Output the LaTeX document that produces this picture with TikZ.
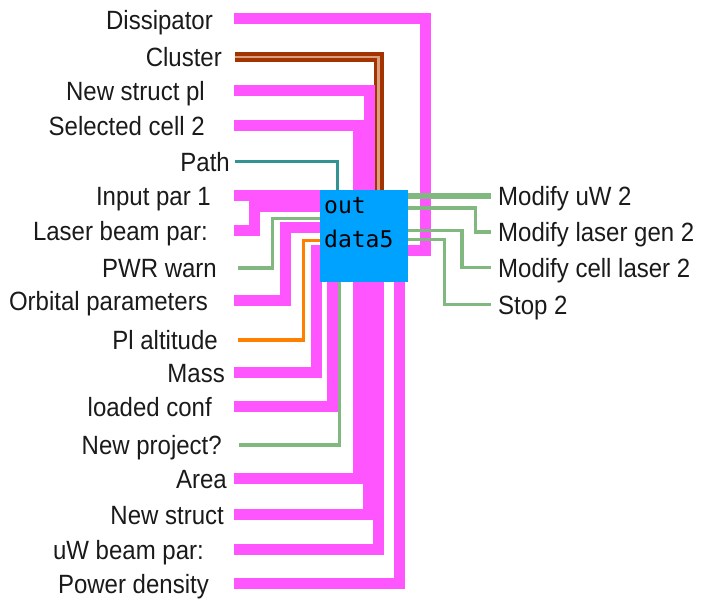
\documentclass[tikz,border=0pt]{standalone}
\usepackage{fontspec}
\setmainfont{Liberation Sans}
\newfontfamily\boxfont{DejaVu Sans Mono}
\definecolor{wpink}{HTML}{FF55FF}
\definecolor{wblue}{HTML}{00A2FF}
\definecolor{wteal}{HTML}{339393}
\definecolor{wgreen}{HTML}{80B880}
\definecolor{worange}{HTML}{FF8000}
\definecolor{wbrown}{HTML}{A33300}
\definecolor{wtan}{HTML}{D9A080}
\definecolor{txt}{HTML}{1A1A1A}
\newcommand{\tallt}[1]{\scalebox{1}[1.1]{#1}}
\begin{document}
\begin{tikzpicture}[x=1pt,y=-1pt,
  strw/.style={draw=wpink,line width=11pt},
  boolw/.style={draw=wgreen,line width=3.3pt},
  boolthick/.style={draw=wgreen,line width=5.5pt},
  pathw/.style={draw=wteal,line width=3.8pt},
  numw/.style={draw=worange,line width=3.3pt},
  clout/.style={draw=wbrown,line width=10pt},
  clin/.style={draw=wtan,line width=2.6pt},
  lbl/.style={anchor=base east,inner sep=0pt,text=txt,font=\fontsize{24}{29}\selectfont},
  rlbl/.style={anchor=base west,inner sep=0pt,text=txt,font=\fontsize{24}{29}\selectfont},
  boxtxt/.style={anchor=base west,inner sep=0pt,text=black,font=\boxfont\fontsize{23}{28}\selectfont}]
\useasboundingbox (0,0) rectangle (702,601);

% labels (left)
\node[lbl] (lDis) at (213,30) {\tallt{Dissipator}};
\node[lbl] (lClu) at (222,67) {\tallt{Cluster}};
\node[lbl] (lNsp) at (205,101) {\tallt{New struct pl}};
\node[lbl] (lSel) at (205,135.5) {\tallt{Selected cell 2}};
\node[lbl] (lPat) at (230,171.5) {\tallt{Path}};
\node[lbl] (lInp) at (211,206) {\tallt{Input par 1}};
\node[lbl] (lLas) at (208,241) {\tallt{Laser beam par:}};
\node[lbl] (lPwr) at (217,278) {\tallt{PWR warn}};
\node[lbl] (lOrb) at (208,311) {\tallt{Orbital parameters}};
\node[lbl] (lAlt) at (218,350) {\tallt{Pl altitude}};
\node[lbl] (lMas) at (225,383) {\tallt{Mass}};
\node[lbl] (lLoa) at (212,417) {\tallt{loaded conf}};
\node[lbl] (lNpr) at (222,455) {\tallt{New project?}};
\node[lbl] (lAre) at (227,488.5) {\tallt{Area}};
\node[lbl] (lNst) at (224,524.5) {\tallt{New struct}};
\node[lbl] (lUwb) at (204,559.5) {\tallt{uW beam par:}};
\node[lbl] (lPow) at (209,593.5) {\tallt{Power density}};

% labels (right)
\node[rlbl] (rUw) at (498,206) {\tallt{Modify uW 2}};
\node[rlbl] (rLg) at (498,242) {\tallt{Modify laser gen 2}};
\node[rlbl] (rCl) at (498,277.5) {\tallt{Modify cell laser 2}};
\node[rlbl] (rSt) at (498,314.5) {\tallt{Stop 2}};

% wire start points
\coordinate (sDis) at (234,18.5);
\coordinate (sClu) at (235,57);
\coordinate (sNsp) at (234,91);
\coordinate (sSel) at (234,125.5);
\coordinate (sPat) at (235,161.5);
\coordinate (sInp) at (234,196);
\coordinate (sLas) at (234,231);
\coordinate (sPwr) at (238,268);
\coordinate (sOrb) at (234,301);
\coordinate (sAlt) at (238,340);
\coordinate (sMas) at (234,373);
\coordinate (sLoa) at (234,407);
\coordinate (sNpr) at (239,445);
\coordinate (sAre) at (234,478.5);
\coordinate (sNst) at (234,514.5);
\coordinate (sUwb) at (234,549.5);
\coordinate (sPow) at (234,583.5);
% right wire ends
\coordinate (eUw) at (491,196);
\coordinate (eLg) at (491,232);
\coordinate (eCl) at (491,267.5);
\coordinate (eSt) at (491,304.5);

% ports on the box
\coordinate (pDis) at (408,250.5);
\coordinate (pClu) at (378.5,190);
\coordinate (pNsp) at (369,190);
\coordinate (pSel) at (358.5,190);
\coordinate (pPat) at (337.5,190);
\coordinate (pInp) at (320,196);
\coordinate (pLas) at (320,207);
\coordinate (pPwr) at (320,218.5);
\coordinate (pOrb) at (320,227.5);
\coordinate (pAlt) at (320,240.5);
\coordinate (pMas) at (320,250.5);
\coordinate (pLoa) at (332,282);
\coordinate (pNpr) at (339.5,282);
\coordinate (pAre) at (358,282);
\coordinate (pNst) at (368,282);
\coordinate (pUwb) at (378.5,282);
\coordinate (pPow) at (399,282);
\coordinate (pUw) at (408,196);
\coordinate (pLg) at (408,208);
\coordinate (pCl) at (408,230.5);
\coordinate (pSt) at (408,239.5);

% left wires
\draw[strw] (sDis) -- (425,18.5) -- (425,250.5) -- (pDis);
\draw[clout] (sClu) -| (pClu);
\draw[clin] (sClu) -| (pClu);
\draw[strw] (sNsp) -| (pNsp);
\draw[strw] (sSel) -| (pSel);
\draw[pathw] (sPat) -| (pPat);
\draw[strw] (sInp) -- (pInp);
\draw[strw] (sLas) -- (254,231) -- (254,207) -- (pLas);
\draw[boolw] (sPwr) -- (272.5,268) -- (272.5,218.5) -- (pPwr);
\draw[strw] (sOrb) -- (285.5,301) -- (285.5,227.5) -- (pOrb);
\draw[numw] (sAlt) -- (303.5,340) -- (303.5,240.5) -- (pAlt);
\draw[strw] (sMas) -- (316.5,373) -- (316.5,250.5) -- (pMas);
\draw[strw] (sLoa) -| (pLoa);
\draw[boolw] (sNpr) -| (pNpr);
\draw[strw] (sAre) -| (pAre);
\draw[strw] (sNst) -| (pNst);
\draw[strw] (sUwb) -| (pUwb);
\draw[strw] (sPow) -| (pPow);

% right wires
\draw[boolthick] (pUw) -- (eUw);
\draw[boolw] (pLg) -- (475.5,208) -- (475.5,232) -- (eLg);
\draw[boolw] (pCl) -- (462,230.5) -- (462,267.5) -- (eCl);
\draw[boolw] (pSt) -- (444.5,239.5) -- (444.5,304.5) -- (eSt);

% the node
\node[fill=wblue,draw=none,inner sep=0pt,minimum width=88pt,minimum height=92pt,anchor=north west] (box) at (320,190) {};
\node[boxtxt] (bt1) at (324,214) {out};
\node[boxtxt] (bt2) at (324,248) {data5};
\end{tikzpicture}
\end{document}
